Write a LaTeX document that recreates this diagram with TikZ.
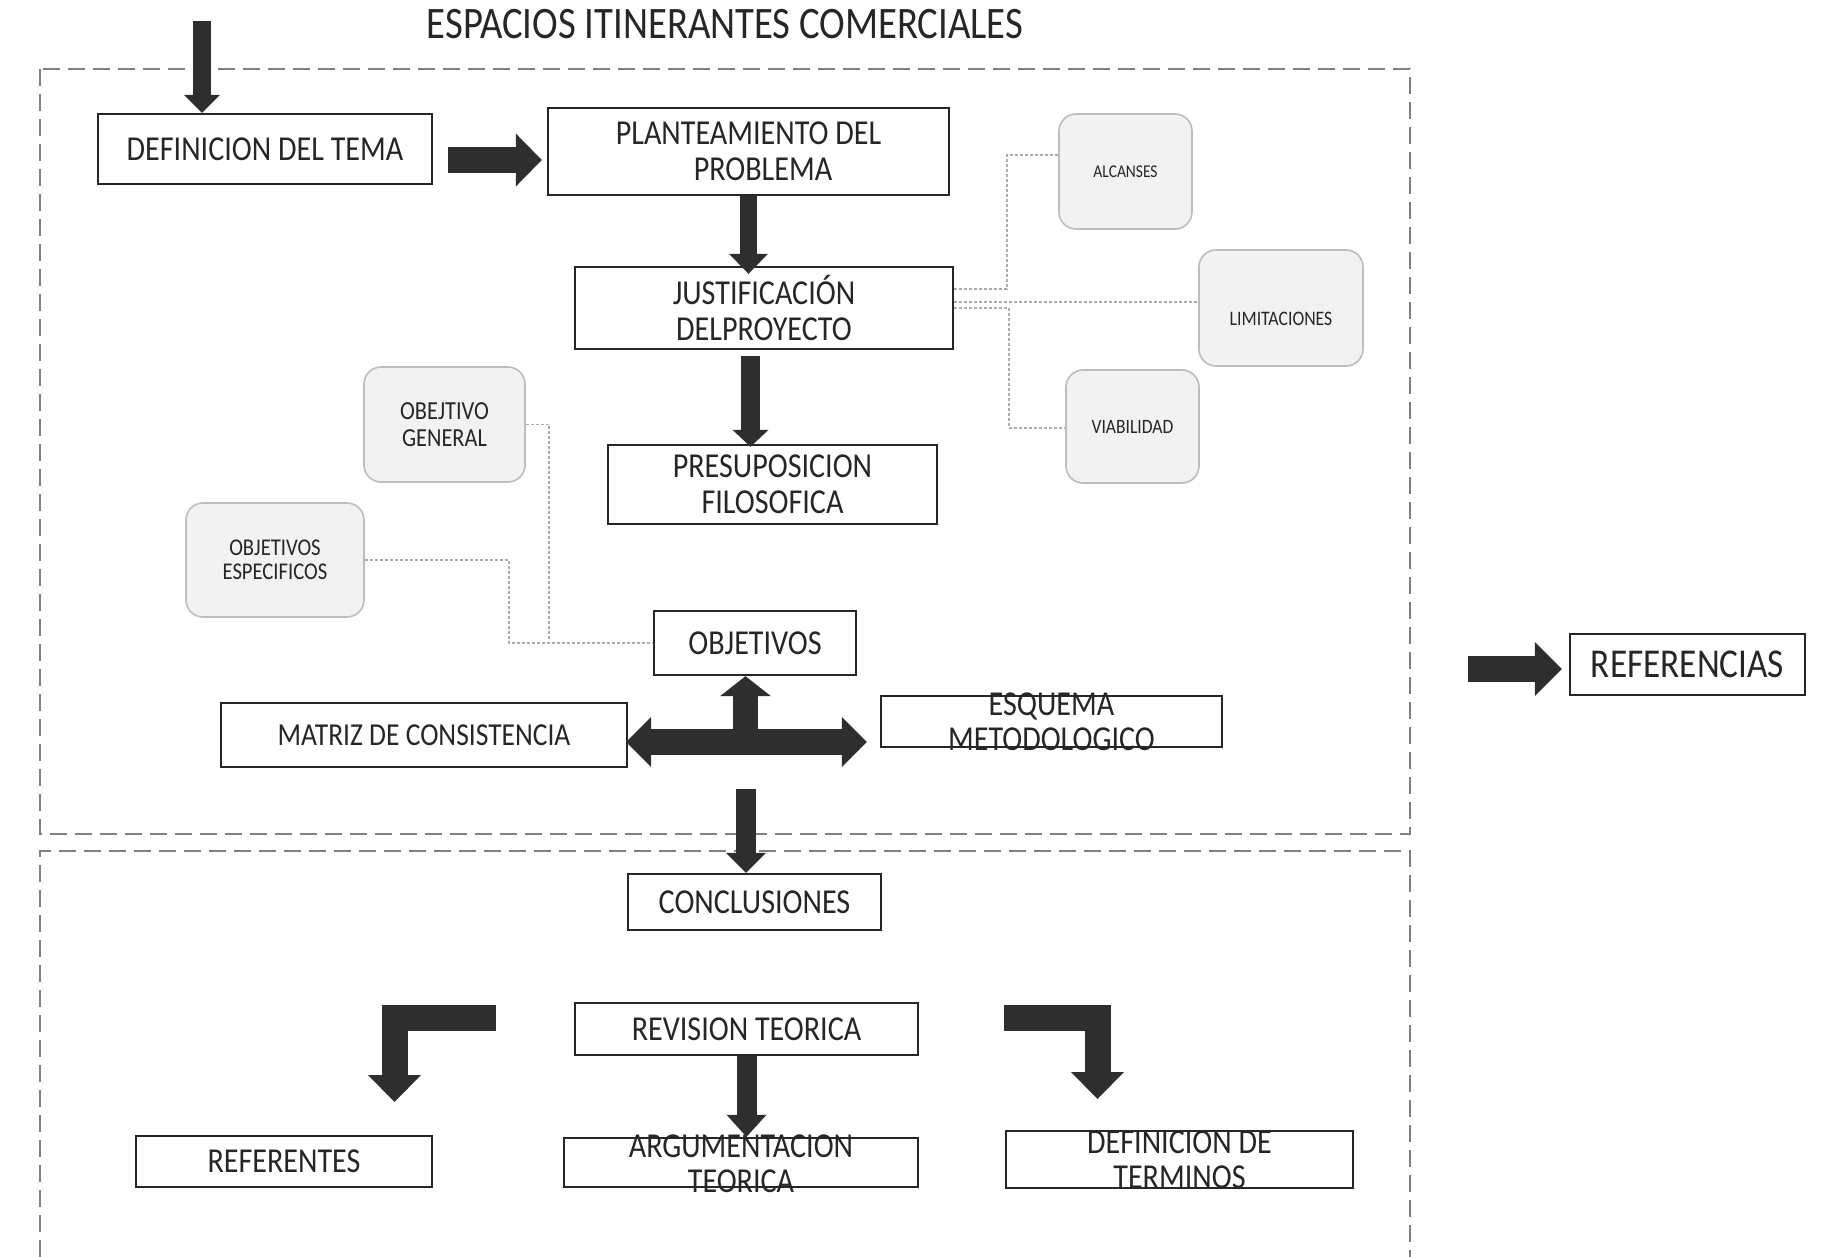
\documentclass[tikz,border=0pt]{standalone}
\usepackage{fontspec}
\setmainfont{Carlito}[FakeStretch=0.86]
\usetikzlibrary{arrows.meta}
\definecolor{ink}{HTML}{262626}
\definecolor{arr}{HTML}{2E2E2E}
\definecolor{dashc}{HTML}{808080}
\definecolor{dotc}{HTML}{ABABAB}
\definecolor{soft}{HTML}{F2F2F2}
\definecolor{softb}{HTML}{BDBDBD}
\begin{document}
\begin{tikzpicture}[x=0.5pt,y=-0.5pt,
  box/.style={draw=ink, line width=1.2pt, fill=white, inner sep=0pt, align=center, text=ink, font=\fontsize{17.5}{18}\selectfont},
  rbox/.style={draw=softb, fill=soft, line width=0.8pt, rounded corners=8.5pt, inner sep=0pt, align=center, text=ink},
  txt/.style={inner sep=0pt, align=center, text=ink, font=\fontsize{17.5}{17.5}\selectfont},
  frame/.style={draw=dashc, line width=1.3pt, dash pattern=on 8.5pt off 4pt},
  dotln/.style={draw=dotc, line width=0.6pt, dash pattern=on 1.5pt off 1pt},
  fat/.style args={#1/#2/#3}{draw=arr, line width=#1, line join=miter, line cap=butt, -{Triangle[width=#2,length=#3,line width=0pt]}},
  fatd/.style args={#1/#2/#3}{draw=arr, line width=#1, line join=miter, line cap=butt, {Triangle[width=#2,length=#3,line width=0pt]}-{Triangle[width=#2,length=#3,line width=0pt]}},
]
\useasboundingbox (0,0) rectangle (1822,1257);

% frames
\draw[frame] (40,69) rectangle (1410,834);
\draw[frame] (40,1257) -- (40,851) -- (1410,851) -- (1410,1257);

% title
\node[txt, font=\fontsize{22.5}{24}\selectfont] (title) at (725,24) {ESPACIOS ITINERANTES COMERCIALES};

% main boxes
\node[box, minimum width=167pt, minimum height=35pt] (def) at (265,149) {DEFINICION DEL TEMA};
\node[box, minimum width=200.5pt, minimum height=43.5pt] (plan) at (748.5,151.5) {PLANTEAMIENTO DEL\\\hspace*{14.5pt}PROBLEMA};
\node[box, minimum width=189pt, minimum height=41pt] (just) at (764,308) {JUSTIFICACIÓN\\DELPROYECTO};
\node[box, minimum width=164.5pt, minimum height=39.5pt] (pres) at (772.5,484.5) {PRESUPOSICION\\FILOSOFICA};
\node[box, minimum width=101pt, minimum height=32pt] (obj) at (755,643) {OBJETIVOS};
\node[box, minimum width=203pt, minimum height=32pt, font=\fontsize{16}{18}\selectfont] (mat) at (424,735) {MATRIZ DE CONSISTENCIA};
\node[box, minimum width=170.5pt, minimum height=25.5pt] (esq) at (1051.5,721.5) {};
\node[txt] (esqt) at (1051.5,721.5) {ESQUEMA\\METODOLOGICO};
\node[box, minimum width=117.5pt, minimum height=30.5pt, font=\fontsize{20.5}{22}\selectfont] (ref) at (1687.5,664.5) {REFERENCIAS};
\node[box, minimum width=126.5pt, minimum height=28pt] (concl) at (754.5,902) {CONCLUSIONES};
\node[box, minimum width=171.5pt, minimum height=26pt] (rev) at (746.5,1029) {REVISION TEORICA};
\node[box, minimum width=148pt, minimum height=25.5pt] (refs) at (284,1161.5) {REFERENTES};
\node[box, minimum width=177pt, minimum height=24.5pt] (arg) at (741,1162.5) {};
\node[txt] (argt) at (741,1163.5) {ARGUMENTACION\\TEORICA};
\node[box, minimum width=173.5pt, minimum height=28.5pt] (dterm) at (1179.5,1159.5) {};
\node[txt] (dtermt) at (1179.5,1159.5) {DEFINICION DE\\TERMINOS};

% soft boxes
\node[rbox, minimum width=66.5pt, minimum height=57.5pt, font=\fontsize{9}{10}\selectfont] (alc) at (1125.5,171.5) {ALCANSES};
\node[rbox, minimum width=82pt, minimum height=58pt] (lim) at (1281,308) {};
\node[txt, font=\fontsize{10.3}{11}\selectfont] (limt) at ([yshift=-5.5pt]lim.center) {LIMITACIONES};
\node[rbox, minimum width=66.5pt, minimum height=56.5pt, font=\fontsize{10.2}{11}\selectfont] (via) at (1132.5,426.5) {VIABILIDAD};
\node[rbox, minimum width=80.5pt, minimum height=57.5pt, font=\fontsize{13}{13.5}\selectfont] (ogen) at (444.5,424.5) {OBEJTIVO\\GENERAL};
\node[rbox, minimum width=89pt, minimum height=57pt, font=\fontsize{12}{12}\selectfont] (oesp) at (275,560) {OBJETIVOS\\ESPECIFICOS};

% dotted connectors
\coordinate (c1) at (1007,155);
\coordinate (c2) at (1009,428);
\coordinate (c3) at (549,640);
\coordinate (c4) at (509,643);
\draw[dotln] ([yshift=9.5pt]just.east) -| (c1) -- (c1 -| alc.west);
\path ([yshift=3pt]just.east) coordinate (j2);
\draw[dotln] (j2) -- (j2 -| lim.west);
\draw[dotln] (just.east) -| (c2) -- (c2 -| via.west);
\draw[dotln] (ogen.east) -| (c3);
\draw[dotln] (oesp.east) -| (c4) -- (obj.west);

% fat arrows
\coordinate (topin) at (202,21);
\draw[fat=9pt/18pt/9pt] (topin) -- (topin |- def.north);

\path ([xshift=7.5pt,yshift=-5.5pt]def.east) coordinate (a1s);
\draw[fat=13pt/26.5pt/13pt, shorten >=2.5pt] (a1s) -- (plan.west |- a1s);

\draw[fat=8.5pt/19.5pt/10pt, shorten >=-4pt] (plan.south) -- (plan.south |- just.north);

\path ([xshift=-6.75pt,yshift=-3pt]just.south) coordinate (a3s);
\draw[fat=9.5pt/18pt/8.5pt, shorten >=-1.5pt] (a3s) -- (a3s |- pres.north);

\coordinate (tj) at (745.5,742);
\draw[fat=12.5pt/25.5pt/10pt] (tj) -- (tj |- obj.south);
\draw[fatd=13pt/25pt/12.5pt, shorten <=-1pt, shorten >=6.5pt] (mat.east |- tj) -- (esq.west |- tj);

\coordinate (cin) at (746,789);
\draw[fat=10pt/20pt/10pt] (cin) -- (cin |- concl.north);

\draw[fat=10pt/20pt/11pt] (rev.south) -- (rev.south |- arg.north);

\coordinate (bl) at (496,1018);
\coordinate (blc) at (394.5,1018);
\coordinate (blt) at (394.5,1102);
\draw[fat=13pt/26.5pt/13.5pt] (bl) -- (blc) -- (blt);

\coordinate (br) at (1004,1017.5);
\coordinate (brc) at (1097.5,1017.5);
\coordinate (brt) at (1097.5,1099);
\draw[fat=13pt/26.5pt/13.5pt] (br) -- (brc) -- (brt);

\coordinate (rin) at (1468,669);
\draw[fat=13pt/27pt/13.5pt, shorten >=3.5pt] (rin) -- (ref.west |- rin);
\end{tikzpicture}
\end{document}
